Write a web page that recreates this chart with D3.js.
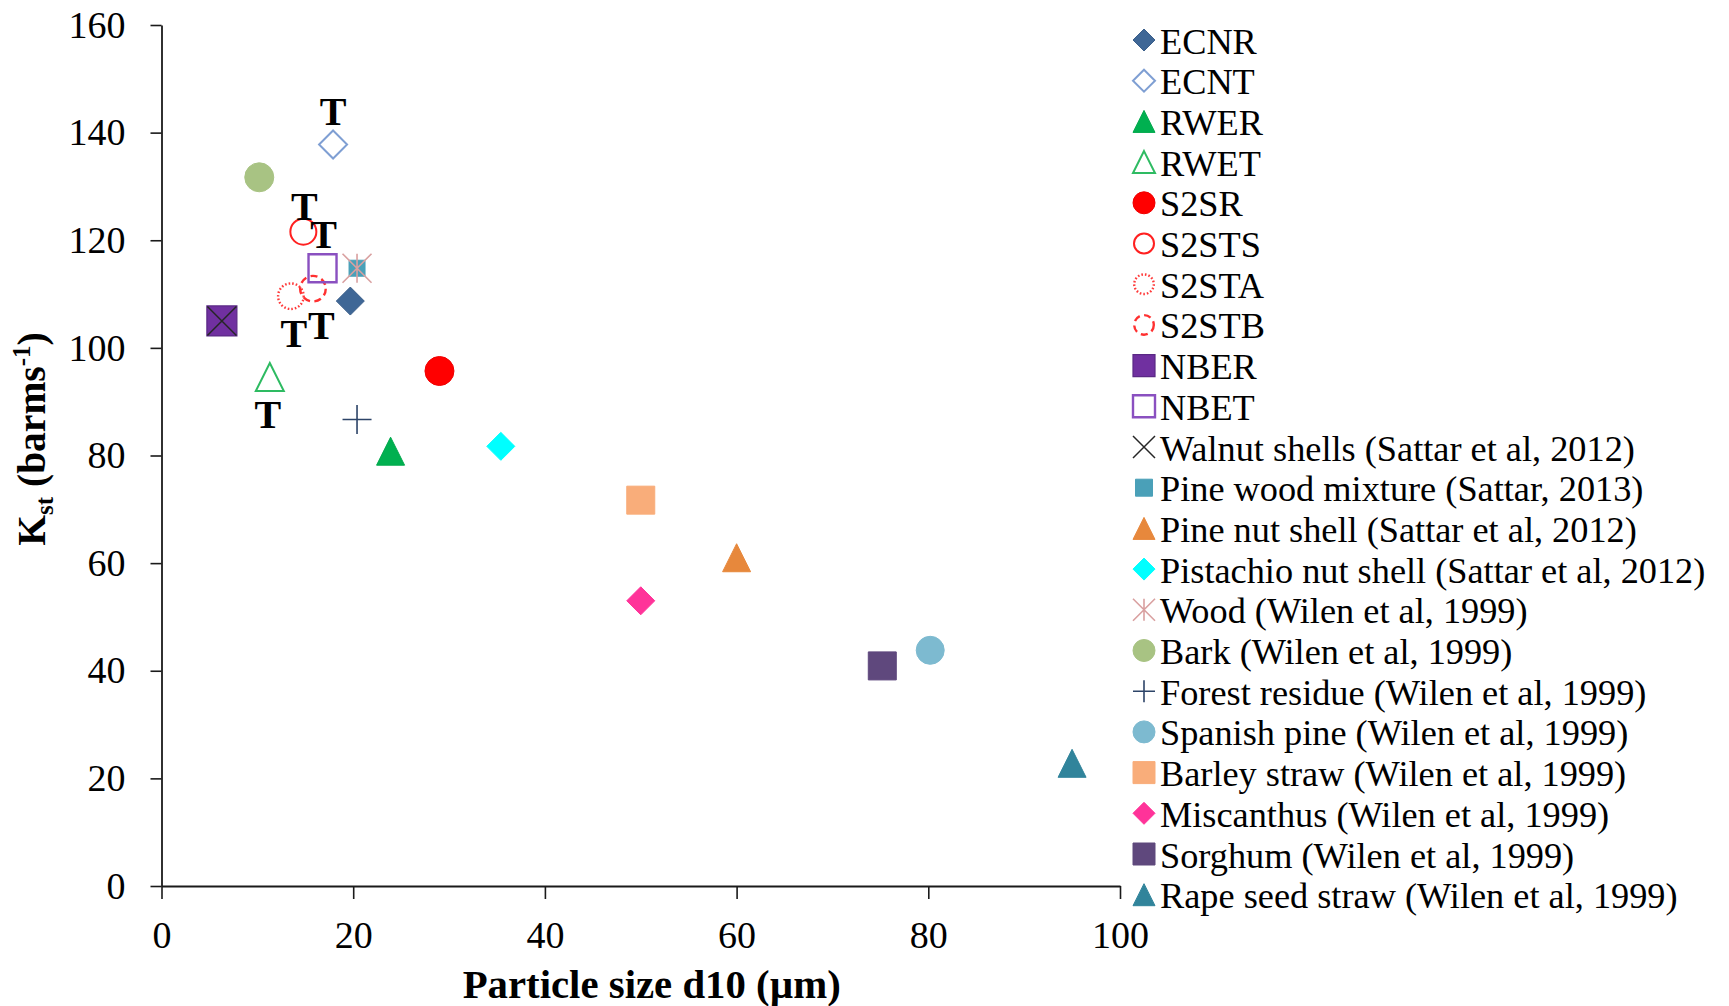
<!DOCTYPE html>
<html>
<head>
<meta charset="utf-8">
<script src="https://cdn.jsdelivr.net/npm/d3@7"></script>
<style>
  html, body { margin: 0; padding: 0; background: #fff; }
  svg { display: block; font-family: "Liberation Serif", "Times New Roman", serif; }
</style>
</head>
<body>
<svg id="chart" width="1729" height="1006"></svg>
<script>
// Deflagration index Kst against particle size d10 for each sample
const seriesNames = [
  "ECNR", "ECNT", "RWER", "RWET", "S2SR", "S2STS", "S2STA", "S2STB", "NBER", "NBET",
  "Walnut shells (Sattar et al, 2012)",
  "Pine wood mixture (Sattar, 2013)",
  "Pine nut shell (Sattar et al, 2012)",
  "Pistachio nut shell (Sattar et al, 2012)",
  "Wood (Wilen et al, 1999)",
  "Bark (Wilen et al, 1999)",
  "Forest residue (Wilen et al, 1999)",
  "Spanish pine (Wilen et al, 1999)",
  "Barley straw (Wilen et al, 1999)",
  "Miscanthus (Wilen et al, 1999)",
  "Sorghum (Wilen et al, 1999)",
  "Rape seed straw (Wilen et al, 1999)"
];
const particleSizeD10 = [19.7, 17.9, 23.9, 11.3, 29.0, 14.8, 13.5, 15.8, 6.3, 16.8,
                         6.3, 20.4, 60.0, 35.4, 20.4, 10.2, 20.4, 80.2, 50.0, 50.0, 75.2, 95.0];
const kstValues = [108.7, 137.8, 80.8, 94.6, 95.7, 121.6, 109.6, 111.0, 105.0, 114.8,
                   105.0, 114.8, 61.0, 81.7, 114.8, 131.7, 86.7, 43.8, 71.7, 53.0, 40.9, 22.8];
// data label shown next to the treated samples
const pointLabels = ["", "T", "", "T", "", "T", "T", "T", "", "T",
                     "", "", "", "", "", "", "", "", "", "", "", ""];
const xTicks = [0, 20, 40, 60, 80, 100];
const yTicks = [0, 20, 40, 60, 80, 100, 120, 140, 160];

// marker appearance per series (shape, fill, stroke, dash, plot size, legend size)
const markerStyles = [
  { shape: "diamond",  fill: "#3F6796", stroke: "#3A5E8A", sw: 1,   dash: null,  size: 28, lsize: 22 },
  { shape: "diamond",  fill: "none",    stroke: "#7F9FD3", sw: 2,   dash: null,  size: 28, lsize: 22 },
  { shape: "triangle", fill: "#00B050", stroke: "#00A84C", sw: 1,   dash: null,  size: 28, lsize: 22 },
  { shape: "triangle", fill: "none",    stroke: "#2EBB62", sw: 2,   dash: null,  size: 28, lsize: 22 },
  { shape: "circle",   fill: "#FF0000", stroke: "#F00000", sw: 1,   dash: null,  size: 29, lsize: 22 },
  { shape: "circle",   fill: "none",    stroke: "#FF2020", sw: 2,   dash: null,  size: 28, lsize: 22 },
  { shape: "circle",   fill: "none",    stroke: "#FF3a3a", sw: 2.4, dash: "1.6,2", size: 28, lsize: 22 },
  { shape: "circle",   fill: "none",    stroke: "#FF3030", sw: 2.4, dash: "7,4.5", size: 28, lsize: 22 },
  { shape: "square",   fill: "#7030A0", stroke: "#5A2885", sw: 1.2, dash: null,  size: 30, lsize: 22 },
  { shape: "square",   fill: "none",    stroke: "#8A50C0", sw: 2.4, dash: null,  size: 28, lsize: 22 },
  { shape: "x",        fill: "none",    stroke: "#262626", sw: 1.5, dash: null,  size: 29, lsize: 22 },
  { shape: "square",   fill: "#4AA0B8", stroke: "#4AA0B8", sw: 1,   dash: null,  size: 16, lsize: 17 },
  { shape: "triangle", fill: "#E7883C", stroke: "#E7883C", sw: 1,   dash: null,  size: 28, lsize: 22 },
  { shape: "diamond",  fill: "#00FFFF", stroke: "#00FFFF", sw: 1,   dash: null,  size: 28, lsize: 22 },
  { shape: "asterisk", fill: "none",    stroke: "#D9A0A0", sw: 1.6, dash: null,  size: 29, lsize: 22 },
  { shape: "circle",   fill: "#A8C383", stroke: "#A8C383", sw: 1,   dash: null,  size: 29, lsize: 22 },
  { shape: "plus",     fill: "none",    stroke: "#2D4468", sw: 1.6, dash: null,  size: 29, lsize: 22 },
  { shape: "circle",   fill: "#7DBAD0", stroke: "#7DBAD0", sw: 1,   dash: null,  size: 28, lsize: 22 },
  { shape: "square",   fill: "#F9AD7A", stroke: "#F9AD7A", sw: 1,   dash: null,  size: 28, lsize: 22 },
  { shape: "diamond",  fill: "#FF3399", stroke: "#FF3399", sw: 1,   dash: null,  size: 28, lsize: 22 },
  { shape: "square",   fill: "#5F487D", stroke: "#5F487D", sw: 1,   dash: null,  size: 28, lsize: 22 },
  { shape: "triangle", fill: "#31849B", stroke: "#31849B", sw: 1,   dash: null,  size: 28, lsize: 22 }
];
// where each "T" label sits relative to its marker
const labelOffsets = {
  1: [0, -33], 3: [-2, 38], 5: [1, -25], 6: [3, 37], 7: [8.5, 37], 9: [1, -34]
};

const svg = d3.select("#chart");
const x = d3.scaleLinear().domain([0, 100]).range([161.5, 1120]);
const y = d3.scaleLinear().domain([0, 160]).range([886, 25]);

function markerPath(shape, s) {
  const h = s / 2;
  switch (shape) {
    case "diamond":  return `M0,${-h}L${h},0L0,${h}L${-h},0Z`;
    case "square":   return `M${-h},${-h}H${h}V${h}H${-h}Z`;
    case "triangle": return `M0,${-h}L${h},${h}L${-h},${h}Z`;
    case "x":        return `M${-h},${-h}L${h},${h}M${-h},${h}L${h},${-h}`;
    case "plus":     return `M${-h},0H${h}M0,${-h}V${h}`;
    case "asterisk": return `M${-h},${-h}L${h},${h}M${-h},${h}L${h},${-h}M0,${-h}V${h}`;
  }
  return "";
}

function drawMarker(g, st, s) {
  let m;
  if (st.shape === "circle") {
    m = g.append("circle").attr("r", s / 2 - (st.fill === "none" ? st.sw / 2 : 0));
  } else {
    m = g.append("path").attr("d", markerPath(st.shape, s));
  }
  m.attr("fill", st.fill).attr("stroke", st.stroke).attr("stroke-width", st.sw);
  if (st.dash) m.attr("stroke-dasharray", st.dash);
  return m;
}

// axes
const yAxis = d3.axisLeft(y).tickValues(yTicks).tickSize(11).tickSizeOuter(0).tickPadding(25);
const xAxis = d3.axisBottom(x).tickValues(xTicks).tickSize(13).tickSizeOuter(0).tickPadding(22);

const gy = svg.append("g").attr("transform", "translate(161.5,0)").call(yAxis);
const gx = svg.append("g").attr("transform", "translate(0,886)").call(xAxis);
[gx, gy].forEach(g => {
  g.selectAll("path.domain").attr("stroke", "#1a1a1a").attr("stroke-width", 1.8);
  g.selectAll(".tick line").attr("stroke", "#1a1a1a").attr("stroke-width", 1.6);
  g.selectAll(".tick text")
    .attr("fill", "#000")
    .style("font-family", '"Liberation Serif", "Times New Roman", serif')
    .style("font-size", "38px");
});

// data points
const pts = svg.append("g");
seriesNames.forEach((name, i) => {
  const g = pts.append("g")
    .attr("transform", `translate(${x(particleSizeD10[i])},${y(kstValues[i])})`);
  drawMarker(g, markerStyles[i], markerStyles[i].size);
});

// "T" data labels
const lbl = svg.append("g")
  .style("font-family", '"Liberation Serif", "Times New Roman", serif')
  .style("font-weight", "bold")
  .style("font-size", "40px");
pointLabels.forEach((t, i) => {
  if (!t) return;
  const off = labelOffsets[i];
  lbl.append("text")
    .attr("x", x(particleSizeD10[i]) + off[0])
    .attr("y", y(kstValues[i]) + off[1] + 13.5)
    .attr("text-anchor", "middle")
    .attr("fill", "#000")
    .text(t);
});

// legend
const legendRow = d3.scaleLinear().domain([0, seriesNames.length - 1])
  .range([40, 40 + (seriesNames.length - 1) * 40.7]);
const lg = svg.append("g");
seriesNames.forEach((name, i) => {
  const cy = legendRow(i);
  const g = lg.append("g").attr("transform", `translate(1144,${cy})`);
  drawMarker(g, markerStyles[i], markerStyles[i].lsize);
  lg.append("text")
    .attr("x", 1160)
    .attr("y", cy + 13.5)
    .attr("fill", "#000")
    .style("font-size", "36.3px")
    .text(name);
});

// axis titles
svg.append("text")
  .attr("x", 651.7)
  .attr("y", 998)
  .attr("text-anchor", "middle")
  .style("font-weight", "bold")
  .style("font-size", "40.8px")
  .text("Particle size d10 (µm)");

const yt = svg.append("text")
  .attr("transform", "translate(45,439) rotate(-90)")
  .attr("text-anchor", "middle")
  .style("font-weight", "bold")
  .style("font-size", "39.5px");
yt.append("tspan").text("K");
yt.append("tspan").attr("dy", 8).style("font-size", "25px").text("st");
yt.append("tspan").attr("dy", -8).text(" (barms");
yt.append("tspan").attr("dy", -15).style("font-size", "25px").text("-1");
yt.append("tspan").attr("dy", 15).text(")");
</script>
</body>
</html>
